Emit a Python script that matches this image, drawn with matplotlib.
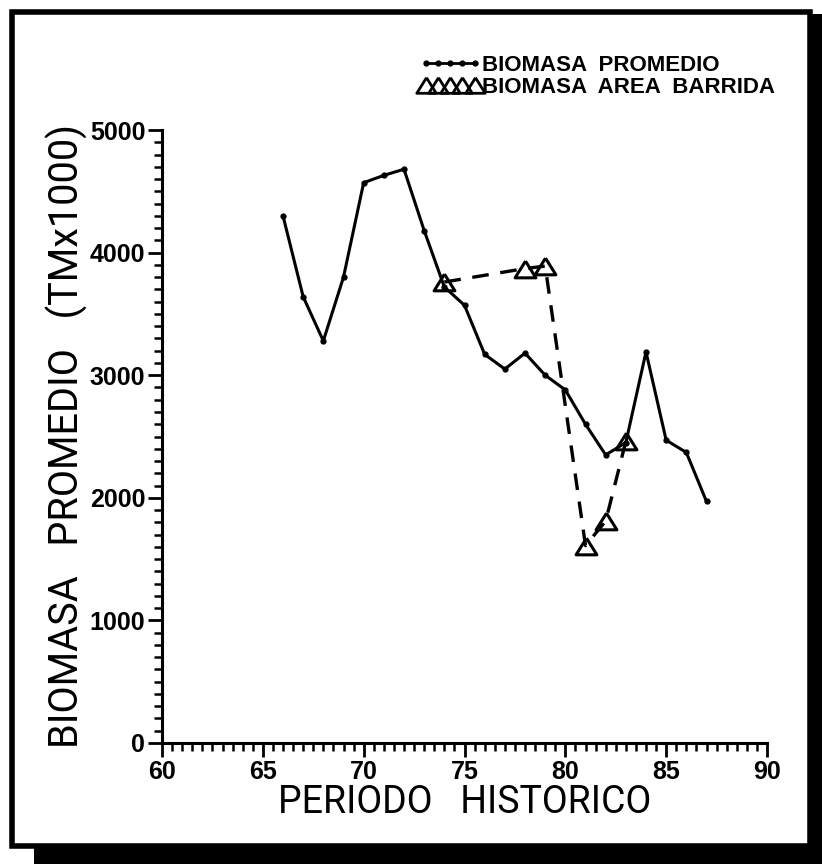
import matplotlib
matplotlib.use('Agg')
import matplotlib.pyplot as plt
from matplotlib.lines import Line2D
from matplotlib.patches import Rectangle
from matplotlib.ticker import MultipleLocator

# biomasa promedio (TM x 1000) por año
anios = [66, 67, 68, 69, 70, 71, 72, 73, 74, 75, 76, 77, 78, 79, 80, 81, 82, 83, 84, 85, 86, 87]
biomasa_promedio = [4300, 3640, 3280, 3800, 4570, 4630, 4680, 4180, 3720, 3570, 3170, 3050,
                    3180, 3000, 2880, 2600, 2350, 2450, 3190, 2470, 2370, 1970]

# biomasa por area barrida
anios_ab = [74, 78, 79, 81, 82, 83]
biomasa_ab = [3760, 3870, 3890, 1610, 1810, 2460]

x_ticks = [60, 65, 70, 75, 80, 85, 90]
y_ticks = [0, 1000, 2000, 3000, 4000, 5000]

fuente_fina = 'Roboto'
fuente_num = 'Liberation Sans'

W, H = 822, 864
fig = plt.figure(figsize=(W / 100, H / 100), dpi=100)

# marco con sombra
fig.patches.append(Rectangle((34 / W, 0), 1 - 34 / W, 1 - 14 / H, transform=fig.transFigure,
                             facecolor='black', edgecolor='none', zorder=-2))
fig.patches.append(Rectangle((12 / W, 1 - 846 / H), (810 - 12) / W, (846 - 12) / H,
                             transform=fig.transFigure, facecolor='white', edgecolor='black',
                             linewidth=4, zorder=-1))

ax = fig.add_axes([162 / W, 1 - 743 / H, (767 - 162) / W, (743 - 130) / H])
ax.set_facecolor('none')

tri = [(0, 0.8), (-1, -0.8), (1, -0.8), (0, 0.8)]

ax.plot(anios, biomasa_promedio, color='black', linewidth=2.2, marker='o', markersize=3.5, zorder=3)
ax.plot(anios_ab, biomasa_ab, color='black', linewidth=2.4, linestyle=(0, (5, 3.5)),
        marker=tri, markersize=15, markerfacecolor='none', markeredgewidth=2.2, zorder=4)

ax.set_xlim(60, 90)
ax.set_ylim(0, 5000)
for s in ['top', 'right']:
    ax.spines[s].set_visible(False)
for s in ['left', 'bottom']:
    ax.spines[s].set_linewidth(2.2)

ax.set_xticks(x_ticks)
ax.set_yticks(y_ticks)
ax.xaxis.set_minor_locator(MultipleLocator(0.5))
ax.yaxis.set_minor_locator(MultipleLocator(100))
ax.tick_params(which='major', direction='out', length=10, width=2, pad=2)
ax.tick_params(which='minor', direction='out', length=6, width=1.8)
for lbl in ax.get_xticklabels() + ax.get_yticklabels():
    lbl.set_fontfamily(fuente_num)
    lbl.set_fontweight('bold')
    lbl.set_fontsize(18)

ax.set_xlabel('PERIODO   HISTORICO', fontfamily=fuente_fina, fontweight='normal',
              fontsize=27, labelpad=0)
ax.set_ylabel('BIOMASA   PROMEDIO   (TMx1000)', fontfamily=fuente_fina, fontweight='normal',
              fontsize=28.5, labelpad=1)

h1 = Line2D([], [], color='black', linewidth=2, marker='o', markersize=3.5)
h2 = Line2D([], [], color='black', linestyle='none', marker=tri, markersize=14,
            markerfacecolor='none', markeredgewidth=2)
fig.legend([h1, h2], ['BIOMASA  PROMEDIO', 'BIOMASA  AREA  BARRIDA'], loc='upper left',
           bbox_to_anchor=(408 / W, 1 - 44 / H), frameon=False, numpoints=5,
           handlelength=2.8, handletextpad=0.05, labelspacing=0.05, borderpad=0,
           prop={'family': fuente_num, 'weight': 'bold', 'size': 16})

fig.savefig('out.png', dpi=100)
